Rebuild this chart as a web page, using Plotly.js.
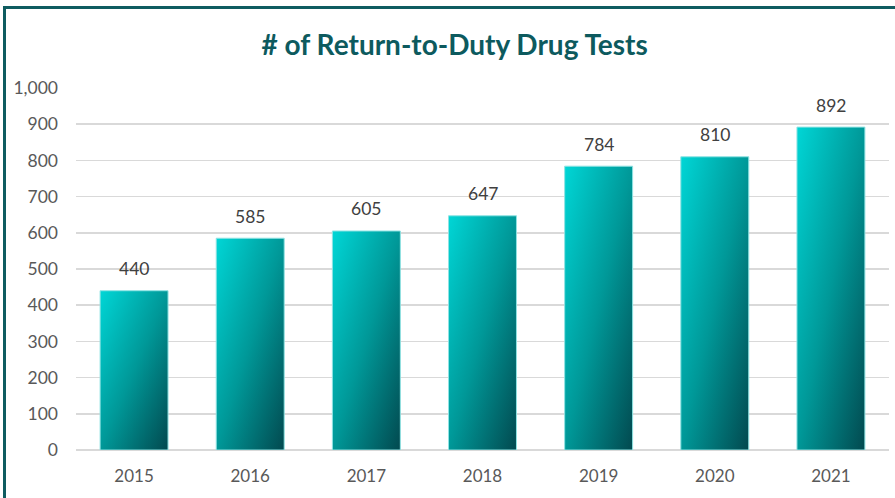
<!DOCTYPE html>
<html>
<head>
<meta charset="utf-8">
<script src="https://cdn.plot.ly/plotly-3.0.1.min.js"></script>
<style>
  html, body { margin: 0; padding: 0; background: #ffffff; overflow: hidden; }
  #frame { position: absolute; left: 3px; top: 6px; width: 1000px; height: 700px; border: 3px solid #0f5c60; box-sizing: border-box; }
  #chart { position: absolute; left: 0; top: 0; width: 895px; height: 498px; }
</style>
</head>
<body>
<div id="frame"></div>
<div id="chart"></div>
<script>
const years = ['2015', '2016', '2017', '2018', '2019', '2020', '2021'];
const tests = [440, 585, 605, 647, 784, 810, 892];
const yTickVals = [0, 100, 200, 300, 400, 500, 600, 700, 800, 900, 1000];

const trace = {
  type: 'bar',
  x: years,
  y: tests,
  marker: { color: '#00a0a0', line: { color: '#8fe3e3', width: 1 } },
  hoverinfo: 'x+y'
};

const annotations = years.map((yr, i) => ({
  x: i, y: tests[i], xref: 'x', yref: 'y',
  text: String(tests[i]), showarrow: false, yshift: 22,
  font: { family: 'Lato, "Open Sans", sans-serif', size: 17.5, color: '#404040' }
}));

const layout = {
  width: 895, height: 498,
  margin: { l: 76, r: 6, t: 88, b: 48, pad: 0 },
  paper_bgcolor: 'rgba(0,0,0,0)',
  plot_bgcolor: 'rgba(0,0,0,0)',
  bargap: 0.415,
  showlegend: false,
  title: {
    text: '# of Return-to-Duty Drug Tests',
    x: 0.508, xanchor: 'center', y: 0.91, yanchor: 'middle',
    font: { family: 'Lato, "Open Sans", sans-serif', size: 28, color: '#0d5a5e', weight: 'bold' }
  },
  xaxis: {
    type: 'category',
    range: [-0.5, years.length - 0.5],
    showgrid: false, zeroline: false, showline: false, ticks: '',
    tickfont: { family: 'Lato, "Open Sans", sans-serif', size: 17, color: '#595959' },
    ticklabelstandoff: 14
  },
  yaxis: {
    range: [0, 1000],
    tickvals: yTickVals,
    tickformat: ',d',
    showgrid: true, gridcolor: '#d9d9d9', gridwidth: 1.5,
    zeroline: true, zerolinecolor: '#d9d9d9', zerolinewidth: 1.5,
    showline: false, ticks: '',
    tickfont: { family: 'Lato, "Open Sans", sans-serif', size: 17.5, color: '#595959' },
    ticklabelstandoff: 17
  },
  annotations: annotations
};

Plotly.newPlot('chart', [trace], layout, { displayModeBar: false, staticPlot: true }).then(gd => {
  const svg = gd.querySelector('svg.main-svg');
  const ns = 'http://www.w3.org/2000/svg';
  let defs = svg.querySelector('defs');
  if (!defs) { defs = document.createElementNS(ns, 'defs'); svg.insertBefore(defs, svg.firstChild); }
  const grad = document.createElementNS(ns, 'linearGradient');
  grad.setAttribute('id', 'barGrad');
  grad.setAttribute('x1', '0'); grad.setAttribute('y1', '0');
  grad.setAttribute('x2', '1'); grad.setAttribute('y2', '1');
  [['0', '#00d6d6'], ['0.5', '#009898'], ['1', '#02494f']].forEach(([o, c]) => {
    const s = document.createElementNS(ns, 'stop');
    s.setAttribute('offset', o); s.setAttribute('stop-color', c);
    grad.appendChild(s);
  });
  defs.appendChild(grad);
  gd.querySelectorAll('.bars .point path').forEach(p => {
    p.style.fill = 'url(#barGrad)';
  });
});
</script>
</body>
</html>
